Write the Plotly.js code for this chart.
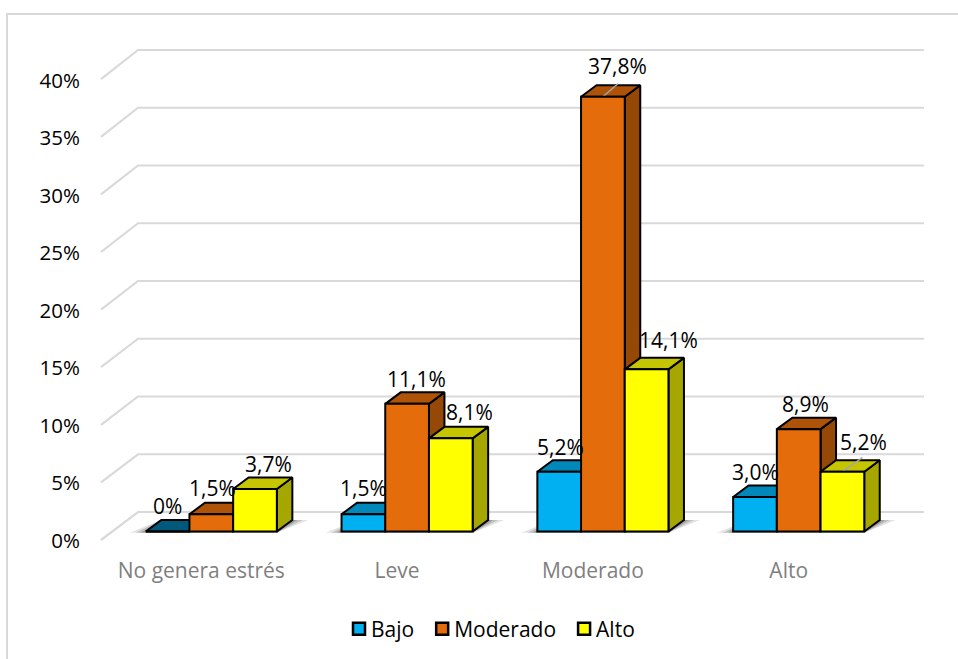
<!DOCTYPE html>
<html><head><meta charset="utf-8">
<script src="https://cdn.plot.ly/plotly-3.0.1.min.js"></script>
<style>html,body{margin:0;padding:0;background:#fff}#c{width:958px;height:659px}</style>
</head><body><div id="c"></div>
<script>
// ---- data ----
const categories = ["No genera estrés", "Leve", "Moderado", "Alto"];
const bajo = [0, 1.5, 5.2, 3.0];
const moderado = [1.5, 11.1, 37.8, 8.9];
const alto = [3.7, 8.1, 14.1, 5.2];
const bajoText = ["0%", "1,5%", "5,2%", "3,0%"];
const moderadoText = ["1,5%", "11,1%", "37,8%", "8,9%"];
const altoText = ["3,7%", "8,1%", "14,1%", "5,2%"];
const yTicks = [0, 5, 10, 15, 20, 25, 30, 35, 40];
const yTickText = ["0%", "5%", "10%", "15%", "20%", "25%", "30%", "35%", "40%"];

// ---- pixel geometry of the frame ----
const W = 958, H = 659, FONT = '"Open Sans", sans-serif';
const X0 = 211.3, XU = 195.8, Y0 = 531.5, YU = 11.5;
const ux = p => (p - X0) / XU, uy = p => (Y0 - p) / YU;
const BW = 43.7 / XU, DX = 15.5 / XU, DY = 1.0;
const offs = [-BW, 0, BW];

const series = [
  {name: "Bajo", v: bajo, t: bajoText, front: "#00B0F0", top: "#0088BA", side: "#00759F",
   nudge: [[0, 26], [0, 26], [1, 25], [0, 25]]},
  {name: "Moderado", v: moderado, t: moderadoText, front: "#E46C0A", top: "#AE5307", side: "#964806",
   nudge: [[1, 26], [9, 25], [15, 31], [7, 25]]},
  {name: "Alto", v: alto, t: altoText, front: "#FFFF00", top: "#C6C600", side: "#A6A600",
   nudge: [[13, 25], [19, 26], [22, 29], [21, 30]]}
];

const traces = [];
const poly = (xs, ys, fill, lw, lc) => ({
  type: "scatter", mode: "lines", x: xs.concat(xs[0]), y: ys.concat(ys[0]), fill: "toself", fillcolor: fill,
  line: {color: lc || "#000", width: lw === undefined ? 2 : lw}, hoverinfo: "skip", showlegend: false
});

// gridlines: front-left end, back wall corner, right end
yTicks.forEach(v => {
  traces.push({type: "scatter", mode: "lines", showlegend: false, hoverinfo: "skip",
    x: [ux(101), ux(138), ux(924)],
    y: [uy(540 - 11.52 * v), uy(512 - 11.55 * v), uy(512 - 11.55 * v)],
    line: {color: "#D9D9D9", width: 2.2}});
});

// floor shadows
categories.forEach((c, i) => {
  const L = i - 1.5 * BW, R = i + 1.5 * BW;
  [[16, .14], [10, .2], [5, .28]].forEach(([e, a]) => {
    const ex = e / XU;
    traces.push(poly([L - ex, R, R + DX + ex, L + DX], [-0.1, -0.1, DY, DY], `rgba(60,60,60,${a})`, 0, "rgba(0,0,0,0)"));
  });
});

// top and side faces, drawn left to right
categories.forEach((c, i) => {
  series.forEach((s, k) => {
    const l = i + offs[k] - BW / 2, r = l + BW, v = s.v[i];
    const top = v === 0 ? "#00587A" : s.top;
    if (v > 0) traces.push(poly([r, r + DX, r + DX, r], [0, DY, v + DY, v], s.side));
    traces.push(poly([l, r, r + DX, l + DX], [v, v, v + DY, v + DY], top));
  });
});

// leader lines for two labels
[[1, 2, 15, 13], [2, 3, 20, 14]].forEach(([k, i, dx, dy]) => {
  const cx = i + offs[k], v = series[k].v[i];
  traces.push({type: "scatter", mode: "lines", showlegend: false, hoverinfo: "skip",
    x: [cx, cx + dx / XU], y: [v, v + dy / YU], line: {color: "#A6A6A6", width: 1.5}});
});

// front faces: real bars on an overlaid subplot so that they cover the side faces
series.forEach(s => {
  traces.push({type: "bar", name: s.name, x: categories.map((c, i) => i), y: s.v, xaxis: "x2", yaxis: "y2",
    marker: {color: s.front, line: {color: "#000", width: 2}}, hoverinfo: "skip"});
});

const annotations = [];
series.forEach((s, k) => s.v.forEach((v, i) => {
  annotations.push({x: i + offs[k], y: v, xref: "x2", yref: "y2", text: s.t[i], showarrow: false,
    xshift: s.nudge[i][0], yshift: s.nudge[i][1], xanchor: "center", yanchor: "middle",
    font: {family: FONT, size: 21, color: "#000"}});
}));

const xr = [ux(0), ux(W)], yr = [uy(H), uy(0)];
const layout = {
  width: W, height: H, margin: {l: 0, r: 0, t: 0, b: 0, pad: 0},
  paper_bgcolor: "#fff", plot_bgcolor: "rgba(0,0,0,0)", showlegend: true,
  barmode: "group", bargap: 1 - 3 * BW, bargroupgap: 0,
  xaxis: {range: xr, anchor: "free", position: 1 - 556 / H, tickmode: "array", tickvals: categories.map((c, i) => i),
    ticktext: categories, ticklabelshift: -10, ticks: "", showgrid: false, zeroline: false, showline: false,
    tickfont: {family: FONT, size: 21, color: "#7F7F7F"}, fixedrange: true},
  yaxis: {range: yr, anchor: "free", position: 80 / W, side: "left", tickmode: "array", tickvals: yTicks,
    ticktext: yTickText, ticklabelshift: 9, ticks: "", showgrid: false, zeroline: false, showline: false,
    tickfont: {family: FONT, size: 20.5, color: "#000"}, fixedrange: true},
  xaxis2: {range: xr, overlaying: "x", visible: false, anchor: "y2", fixedrange: true},
  yaxis2: {range: yr, overlaying: "y", visible: false, anchor: "x2", fixedrange: true},
  legend: {orientation: "h", x: 331 / W, xanchor: "left", y: 1 - 629 / H, yanchor: "middle",
    font: {family: FONT, size: 21, color: "#000"}, traceorder: "normal", bgcolor: "rgba(0,0,0,0)", itemwidth: 30},
  annotations,
  shapes: [{type: "rect", xref: "paper", yref: "paper", x0: 7 / W, x1: 1.02, y0: -0.02, y1: 1 - 14 / H,
    line: {color: "#D9D9D9", width: 2}, fillcolor: "rgba(0,0,0,0)", layer: "below"}]
};
Plotly.newPlot("c", traces, layout, {displayModeBar: false, responsive: false}).then(() => {
  // tighten the legend: swatches closer to their text, entries closer together
  document.querySelectorAll("#c .legend .traces").forEach((g, i) => {
    const m = /translate\(\s*([-\d.]+)[ ,]+([-\d.]+)/.exec(g.getAttribute("transform") || "");
    if (m) g.setAttribute("transform", `translate(${+m[1] - i * 5},${m[2]})`);
    const p = g.querySelector(".legendpoints");
    if (p) p.setAttribute("transform", "translate(8,0)");
    g.querySelectorAll(".legendpoints path").forEach(q => { q.style.strokeWidth = "2.5px"; });
  });
});
</script></body></html>
